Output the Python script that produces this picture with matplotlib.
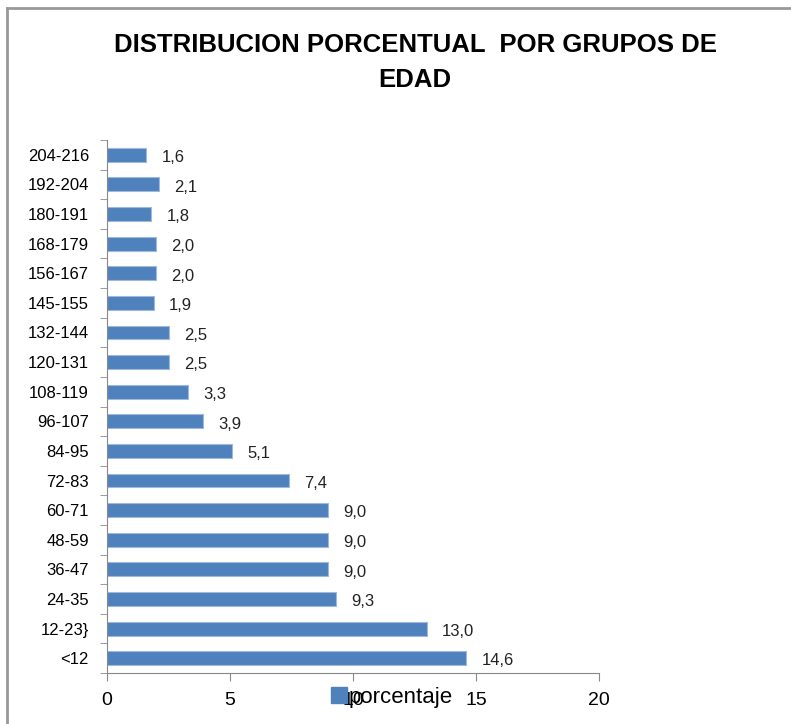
import matplotlib.pyplot as plt
from matplotlib.lines import Line2D
from matplotlib.patches import Patch

grupos = ["<12", "12-23}", "24-35", "36-47", "48-59", "60-71", "72-83", "84-95",
          "96-107", "108-119", "120-131", "132-144", "145-155", "156-167",
          "168-179", "180-191", "192-204", "204-216"]
porcentaje = [14.6, 13.0, 9.3, 9.0, 9.0, 9.0, 7.4, 5.1, 3.9, 3.3, 2.5, 2.5,
              1.9, 2.0, 2.0, 1.8, 2.1, 1.6]
xticks = [0, 5, 10, 15, 20]

plt.rcParams['font.family'] = ['Liberation Sans', 'DejaVu Sans']

W, H = 791, 724
fig = plt.figure(figsize=(W / 100, H / 100), dpi=100)
ax = fig.add_axes([107 / W, 1 - 673 / H, (599 - 107) / W, (673 - 140) / H])

azul = "#4F81BD"
pos = range(len(grupos))
ax.barh(pos, porcentaje, height=0.47, color=azul, edgecolor="#9DB9DE", linewidth=0.8)

for i, v in enumerate(porcentaje):
    ax.annotate(("%.1f" % v).replace(".", ","), (v, i), xytext=(11, -2),
                textcoords="offset points", va="center", ha="left", fontsize=12,
                color="#222222")

ax.set_xlim(0, 20)
ax.set_ylim(-0.5, len(grupos) - 0.5)
ax.set_xticks(xticks)
ax.set_xticklabels([str(t) for t in xticks], fontsize=14)
ax.set_yticks(pos)
ax.set_yticklabels(grupos, fontsize=12)
ax.set_yticks([p - 0.5 for p in range(len(grupos) + 1)], minor=True)
ax.tick_params(axis="y", which="major", length=0, pad=13)
ax.tick_params(axis="y", which="minor", length=5, color="#888888", direction="out")
ax.tick_params(axis="x", length=6, color="#888888", direction="out", pad=8)

for s in ["top", "right"]:
    ax.spines[s].set_visible(False)
ax.spines["left"].set_color("#888888")
ax.spines["bottom"].set_color("#888888")

fig.text(415 / W, 1 - 45 / H, "DISTRIBUCION PORCENTUAL  POR GRUPOS DE", ha="center",
         va="center", fontsize=18.5, fontweight="bold")
fig.text(415 / W, 1 - 80 / H, "EDAD", ha="center", va="center", fontsize=18.5,
         fontweight="bold")

fig.legend(handles=[Patch(color=azul, label="porcentaje")], loc="center",
           bbox_to_anchor=(392 / W, 1 - 697 / H), frameon=False, fontsize=16,
           handlelength=0.7, handleheight=0.7, handletextpad=0.1)

# chart frame
fig.add_artist(Line2D([7 / W, 7 / W], [0, 1 - 8 / H], color="#999999", lw=2,
                      transform=fig.transFigure))
fig.add_artist(Line2D([7 / W, 1], [1 - 8 / H, 1 - 8 / H], color="#999999", lw=2,
                      transform=fig.transFigure))

fig.savefig("out.png", dpi=100)
